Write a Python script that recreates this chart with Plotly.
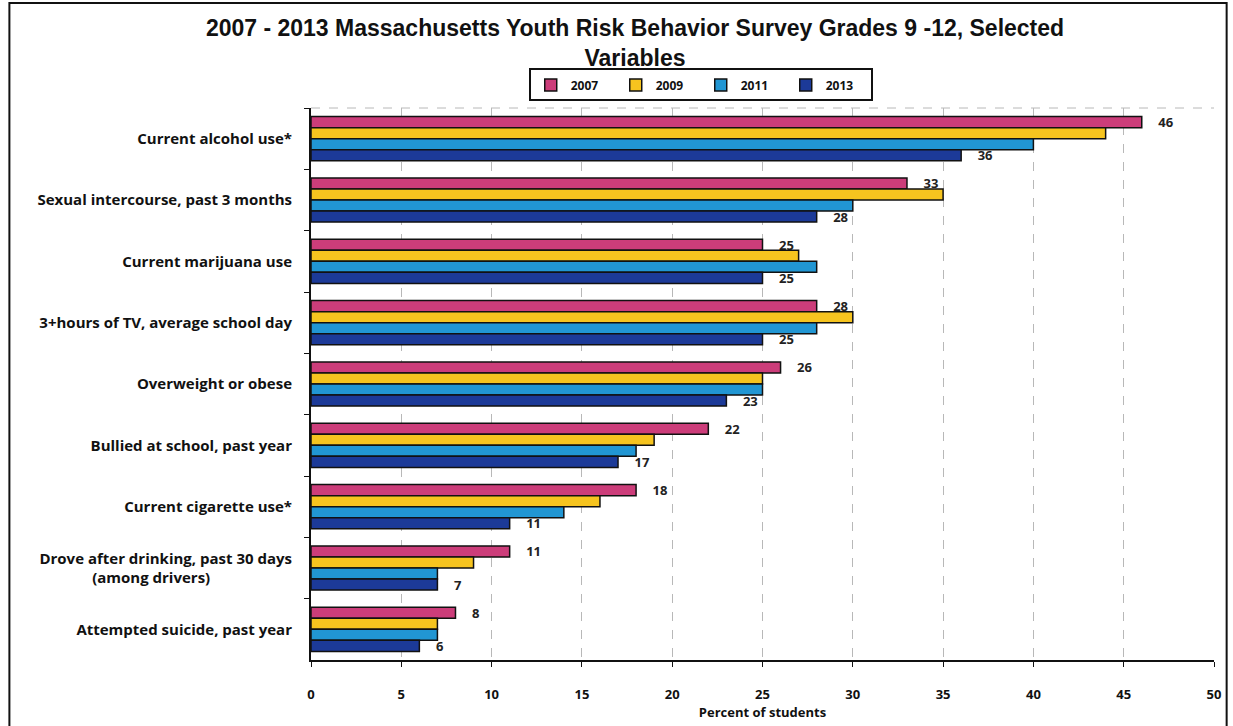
import plotly.graph_objects as go

categories = [
    "Current alcohol use*",
    "Sexual intercourse, past 3 months",
    "Current marijuana use",
    "3+hours of TV, average school day",
    "Overweight or obese",
    "Bullied at school, past year",
    "Current cigarette use*",
    "Drove after drinking, past 30 days<br>(among drivers)" + "\u00a0" * 21,
    "Attempted suicide, past year",
]
years = ["2007", "2009", "2011", "2013"]
v2007 = [46, 33, 25, 28, 26, 22, 18, 11, 8]
v2009 = [44, 35, 27, 30, 25, 19, 16, 9, 7]
v2011 = [40, 30, 28, 28, 25, 18, 14, 7, 7]
v2013 = [36, 28, 25, 25, 23, 17, 11, 7, 6]
series = [v2007, v2009, v2011, v2013]
colors = ["#cc3d7a", "#f6c41f", "#2196d3", "#1c3a98"]
labelled = [True, False, False, True]

FONT = "Liberation Sans"
LBL = "Open Sans"

fig = go.Figure()
for yr, vals, col, lab in zip(years, series, colors, labelled):
    fig.add_trace(go.Bar(
        y=categories, x=vals, name=yr, orientation="h",
        marker=dict(color=col, line=dict(color="#111111", width=1.5)),
        text=[f"\u00a0\u00a0\u00a0\u00a0{v}" for v in vals] if lab else None,
        textposition="outside" if lab else "none",
        constraintext="none",
        textfont=dict(family=LBL, size=13, color="#222222", weight="bold"),
        cliponaxis=False,
    ))

fig.update_layout(
    width=1233, height=726,
    margin=dict(l=311, r=16, t=108, b=66),
    paper_bgcolor="white", plot_bgcolor="white",
    barmode="group", bargap=0.28, bargroupgap=0,
    title=dict(
        text="<b>2007 - 2013 Massachusetts Youth Risk Behavior Survey Grades 9 -12, Selected<br>Variables</b>",
        x=0.515, xanchor="center", y=0.95, yanchor="top",
        font=dict(family=FONT, size=23, color="#111111"),
    ),
    legend=dict(
        orientation="h", x=0.4316, xanchor="center", y=1.0417, yanchor="middle",
        bordercolor="#111111", borderwidth=2, bgcolor="white",
        font=dict(family=LBL, size=12, color="#111111", weight="bold"),
        entrywidth=40, itemwidth=30, traceorder="normal",
    ),
    showlegend=True,
    font=dict(family=LBL, color="#111111"),
)
fig.update_xaxes(
    range=[0, 50], dtick=5, tick0=0,
    showgrid=True, gridcolor="#b8b8b8", griddash="dash", gridwidth=1,
    showline=True, linecolor="#111111", linewidth=2,
    ticks="outside", ticklen=5, tickcolor="#111111",
    tickfont=dict(family=LBL, size=13, weight="bold"),
    ticklabelstandoff=16,
    title=dict(text="<b>Percent of students</b>", font=dict(family=LBL, size=13), standoff=0),
    zeroline=False,
)
fig.update_yaxes(
    autorange="reversed",
    showline=True, linecolor="#111111", linewidth=2,
    ticks="outside", ticklen=5, tickcolor="#111111", tickson="boundaries",
    tickfont=dict(family=LBL, size=15, weight="bold"),
    ticklabelstandoff=14,
    showgrid=False,
)
# top dashed border of plot area and outer frame
fig.add_shape(type="line", xref="paper", yref="paper", x0=0, x1=1, y0=1, y1=1,
              line=dict(color="#b8b8b8", width=1, dash="dash"))
fig.add_shape(type="rect", xref="paper", yref="paper",
              x0=-0.334, x1=1.014, y0=-0.13, y1=1.19,
              line=dict(color="#111111", width=2), layer="below")

fig.write_html("out.html")
